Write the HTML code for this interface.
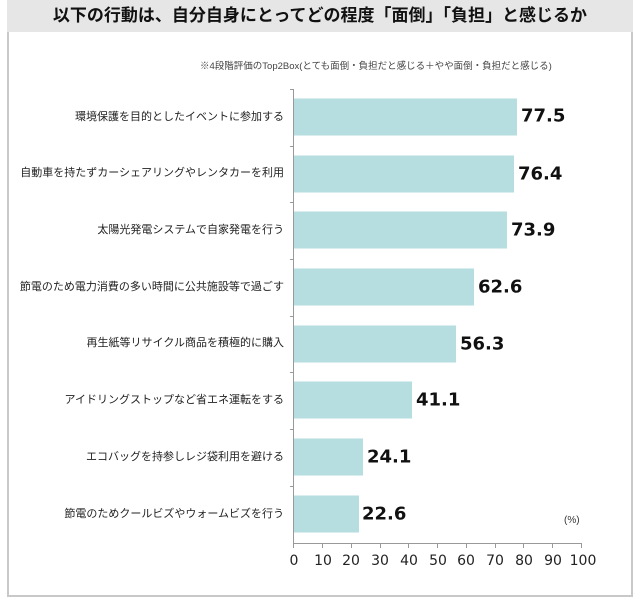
<!DOCTYPE html><html><head><meta charset="utf-8"><style>
body{margin:0;width:640px;height:600px;background:#fff;position:relative;overflow:hidden;font-family:"Liberation Sans","Noto Sans CJK JP",sans-serif}
.frame{position:absolute;left:7px;top:0;width:626px;height:597px;border:2px solid #c8c8c8;border-top:none;box-sizing:border-box}
.title{position:absolute;left:7px;top:0;width:626px;height:32px;background:#e6e6e6;font-weight:bold;font-size:17px;text-align:center;line-height:32px;color:#111}
.note{position:absolute;left:200px;top:58px;font-size:9.5px;color:#444}
.lab{position:absolute;right:356px;font-size:11px;color:#222;white-space:nowrap;transform:translateY(-50%)}
.bar{position:absolute;left:294px;height:37px;background:#b6dee0;transform:translateY(-50%)}
.val{position:absolute;font-family:"DejaVu Sans",sans-serif;font-weight:bold;font-size:18px;color:#111;transform:translateY(-50%)}
.tick{position:absolute;font-family:"DejaVu Sans",sans-serif;font-size:14px;color:#222;top:553px;transform:translateX(-50%)}
</style></head><body>
<div class="frame"></div>
<div class="title">以下の行動は、自分自身にとってどの程度「面倒」「負担」と感じるか</div>
<div class="note">※4段階評価のTop2Box(とても面倒・負担だと感じる＋やや面倒・負担だと感じる)</div>
<svg width="640" height="600" style="position:absolute;left:0;top:0">
<line x1="293.5" y1="89" x2="293.5" y2="543" stroke="#999"/>
<line x1="293" y1="543.5" x2="582" y2="543.5" stroke="#999"/>
<g stroke="#999">
<line x1="290" y1="89.5" x2="294" y2="89.5"/><line x1="290" y1="146.5" x2="294" y2="146.5"/><line x1="290" y1="202.5" x2="294" y2="202.5"/><line x1="290" y1="259.5" x2="294" y2="259.5"/><line x1="290" y1="316.5" x2="294" y2="316.5"/><line x1="290" y1="372.5" x2="294" y2="372.5"/><line x1="290" y1="429.5" x2="294" y2="429.5"/><line x1="290" y1="486.5" x2="294" y2="486.5"/>
<line x1="293.5" y1="543" x2="293.5" y2="548"/><line x1="322.5" y1="543" x2="322.5" y2="548"/><line x1="351.5" y1="543" x2="351.5" y2="548"/><line x1="380.5" y1="543" x2="380.5" y2="548"/><line x1="408.5" y1="543" x2="408.5" y2="548"/><line x1="437.5" y1="543" x2="437.5" y2="548"/><line x1="466.5" y1="543" x2="466.5" y2="548"/><line x1="495.5" y1="543" x2="495.5" y2="548"/><line x1="523.5" y1="543" x2="523.5" y2="548"/><line x1="552.5" y1="543" x2="552.5" y2="548"/><line x1="581.5" y1="543" x2="581.5" y2="548"/>
</g></svg>
<div class="lab" style="top:116px">環境保護を目的としたイベントに参加する</div>
<div class="lab" style="top:172px">自動車を持たずカーシェアリングやレンタカーを利用</div>
<div class="lab" style="top:229px">太陽光発電システムで自家発電を行う</div>
<div class="lab" style="top:286px">節電のため電力消費の多い時間に公共施設等で過ごす</div>
<div class="lab" style="top:342px">再生紙等リサイクル商品を積極的に購入</div>
<div class="lab" style="top:399px">アイドリングストップなど省エネ運転をする</div>
<div class="lab" style="top:456px">エコバッグを持参しレジ袋利用を避ける</div>
<div class="lab" style="top:513px">節電のためクールビズやウォームビズを行う</div>
<div class="bar" style="top:117px;width:223px"></div><div class="val" style="top:116px;left:521px">77.5</div>
<div class="bar" style="top:174px;width:220px"></div><div class="val" style="top:174px;left:518px">76.4</div>
<div class="bar" style="top:230px;width:213px"></div><div class="val" style="top:230px;left:511px">73.9</div>
<div class="bar" style="top:287px;width:180px"></div><div class="val" style="top:287px;left:478px">62.6</div>
<div class="bar" style="top:344px;width:162px"></div><div class="val" style="top:344px;left:460px">56.3</div>
<div class="bar" style="top:400px;width:118px"></div><div class="val" style="top:400px;left:416px">41.1</div>
<div class="bar" style="top:457px;width:69px"></div><div class="val" style="top:457px;left:367px">24.1</div>
<div class="bar" style="top:514px;width:65px"></div><div class="val" style="top:514px;left:362px">22.6</div>
<div style="position:absolute;left:564px;top:515px;font-size:10px;color:#333">(%)</div>
<div class="tick" style="left:294px">0</div><div class="tick" style="left:323px">10</div><div class="tick" style="left:351px">20</div><div class="tick" style="left:380px">30</div><div class="tick" style="left:409px">40</div><div class="tick" style="left:438px">50</div><div class="tick" style="left:466px">60</div><div class="tick" style="left:495px">70</div><div class="tick" style="left:524px">80</div><div class="tick" style="left:553px">90</div><div class="tick" style="left:583px">100</div>
</body></html>
